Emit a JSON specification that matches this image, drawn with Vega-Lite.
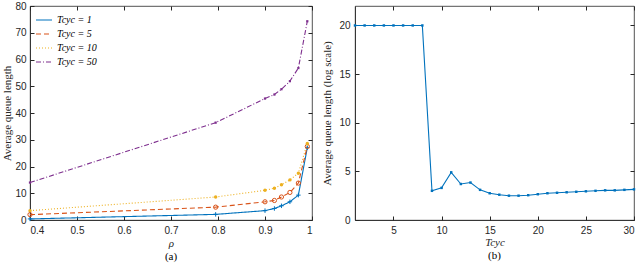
{
  "$schema": "https://vega.github.io/schema/vega-lite/v6.json",
  "background": "white",
  "padding": {"left": 1, "top": 0, "right": 0, "bottom": 0},
  "spacing": 8,
  "config": {
    "view": {"stroke": "#262626", "strokeWidth": 0.8},
    "axis": {"grid": false, "minExtent": 0, "labelFont": "Liberation Sans", "labelFontSize": 10, "labelColor": "#262626", "domainColor": "#262626", "domainWidth": 0.8, "tickColor": "#262626", "tickSize": -4, "labelPadding": 9, "titleFont": "Liberation Serif", "titleFontWeight": "normal", "titleFontSize": 11, "titleColor": "#262626"},
    "title": {"font": "Liberation Serif", "fontSize": 11, "fontWeight": "normal", "color": "#000000", "offset": 3},
    "legend": {"labelFont": "Liberation Serif", "labelFontStyle": "italic", "labelFontSize": 10, "labelColor": "#000000", "symbolSize": 256, "symbolStrokeWidth": 1.2, "rowPadding": -5, "padding": 2, "offset": 3}
  },
  "hconcat": [
    {
      "width": 282,
      "height": 214,
      "title": {"text": "(a)", "orient": "bottom"},
      "data": {"values": [
        {"rho": 0.4, "q": 0.4, "series": "Tcyc = 1"},
        {"rho": 0.795, "q": 2.1, "series": "Tcyc = 1"},
        {"rho": 0.9, "q": 3.5, "series": "Tcyc = 1"},
        {"rho": 0.92, "q": 4.3, "series": "Tcyc = 1"},
        {"rho": 0.935, "q": 5.3, "series": "Tcyc = 1"},
        {"rho": 0.953, "q": 6.8, "series": "Tcyc = 1"},
        {"rho": 0.971, "q": 9.3, "series": "Tcyc = 1"},
        {"rho": 0.99, "q": 27.0, "series": "Tcyc = 1"},
        {"rho": 0.4, "q": 2.0, "series": "Tcyc = 5"},
        {"rho": 0.795, "q": 4.8, "series": "Tcyc = 5"},
        {"rho": 0.9, "q": 6.8, "series": "Tcyc = 5"},
        {"rho": 0.92, "q": 7.3, "series": "Tcyc = 5"},
        {"rho": 0.935, "q": 8.6, "series": "Tcyc = 5"},
        {"rho": 0.953, "q": 10.3, "series": "Tcyc = 5"},
        {"rho": 0.971, "q": 13.8, "series": "Tcyc = 5"},
        {"rho": 0.99, "q": 27.5, "series": "Tcyc = 5"},
        {"rho": 0.4, "q": 3.5, "series": "Tcyc = 10"},
        {"rho": 0.795, "q": 8.6, "series": "Tcyc = 10"},
        {"rho": 0.9, "q": 11.1, "series": "Tcyc = 10"},
        {"rho": 0.92, "q": 11.9, "series": "Tcyc = 10"},
        {"rho": 0.935, "q": 13.2, "series": "Tcyc = 10"},
        {"rho": 0.953, "q": 15.0, "series": "Tcyc = 10"},
        {"rho": 0.971, "q": 17.5, "series": "Tcyc = 10"},
        {"rho": 0.99, "q": 28.6, "series": "Tcyc = 10"},
        {"rho": 0.4, "q": 14.0, "series": "Tcyc = 50"},
        {"rho": 0.795, "q": 36.4, "series": "Tcyc = 50"},
        {"rho": 0.9, "q": 45.4, "series": "Tcyc = 50"},
        {"rho": 0.92, "q": 46.9, "series": "Tcyc = 50"},
        {"rho": 0.935, "q": 48.9, "series": "Tcyc = 50"},
        {"rho": 0.953, "q": 51.9, "series": "Tcyc = 50"},
        {"rho": 0.971, "q": 56.8, "series": "Tcyc = 50"},
        {"rho": 0.99, "q": 74.3, "series": "Tcyc = 50"}
      ]},
      "layer": [
        {
          "mark": {"type": "line", "strokeWidth": 1.1},
          "encoding": {
            "x": {"field": "rho", "type": "quantitative", "scale": {"domain": [0.4, 1], "nice": false}, "axis": {"values": [0.4, 0.5, 0.6, 0.7, 0.8, 0.9, 1], "format": "~g", "title": "ρ", "titleFontStyle": "italic", "titlePadding": 2}},
            "y": {"field": "q", "type": "quantitative", "scale": {"domain": [0, 80], "nice": false}, "axis": {"values": [0, 10, 20, 30, 40, 50, 60, 70, 80], "labelPadding": 8, "title": "Average queue length", "titlePadding": 2}},
            "color": {"field": "series", "type": "nominal", "scale": {"domain": ["Tcyc = 1", "Tcyc = 5", "Tcyc = 10", "Tcyc = 50"], "range": ["#0072BD", "#D95319", "#EDB120", "#7E2F8E"]}, "legend": {"orient": "top-left", "title": null}},
            "strokeDash": {"field": "series", "type": "nominal", "scale": {"domain": ["Tcyc = 1", "Tcyc = 5", "Tcyc = 10", "Tcyc = 50"], "range": [[1, 0], [5, 3], [1, 2], [5, 2, 1, 2]]}, "legend": {"orient": "top-left", "title": null}}
          }
        },
        {
          "transform": [{"filter": "datum.series == 'Tcyc = 1'"}],
          "mark": {"type": "point", "shape": "M-1,0H1M0,-1V1", "filled": false, "size": 20, "color": "#0072BD", "strokeWidth": 1, "opacity": 1},
          "encoding": {"x": {"field": "rho", "type": "quantitative", "axis": null}, "y": {"field": "q", "type": "quantitative", "axis": null}}
        },
        {
          "transform": [{"filter": "datum.series == 'Tcyc = 5'"}],
          "mark": {"type": "point", "shape": "circle", "filled": false, "size": 18, "color": "#D95319", "strokeWidth": 1, "opacity": 1},
          "encoding": {"x": {"field": "rho", "type": "quantitative", "axis": null}, "y": {"field": "q", "type": "quantitative", "axis": null}}
        },
        {
          "transform": [{"filter": "datum.series == 'Tcyc = 10'"}],
          "mark": {"type": "point", "shape": "circle", "filled": true, "size": 12, "color": "#EDB120", "opacity": 1},
          "encoding": {"x": {"field": "rho", "type": "quantitative", "axis": null}, "y": {"field": "q", "type": "quantitative", "axis": null}}
        },
        {
          "transform": [{"filter": "datum.series == 'Tcyc = 50'"}],
          "mark": {"type": "point", "shape": "square", "filled": true, "size": 5, "color": "#7E2F8E", "opacity": 1},
          "encoding": {"x": {"field": "rho", "type": "quantitative", "axis": null}, "y": {"field": "q", "type": "quantitative", "axis": null}}
        },
        {
          "mark": {"type": "point", "opacity": 0},
          "encoding": {
            "x": {"field": "rho", "type": "quantitative", "axis": {"orient": "top", "values": [0.4, 0.5, 0.6, 0.7, 0.8, 0.9, 1], "labels": false, "domain": false, "title": null, "minExtent": 0, "maxExtent": 0}},
            "y": {"field": "q", "type": "quantitative", "axis": {"orient": "right", "values": [0, 10, 20, 30, 40, 50, 60, 70, 80], "labels": false, "domain": false, "title": null, "minExtent": 0, "maxExtent": 0}}
          }
        }
      ],
      "resolve": {"axis": {"x": "independent", "y": "independent"}}
    },
    {
      "width": 279,
      "height": 214,
      "title": {"text": "(b)", "orient": "bottom"},
      "data": {"values": [
        {"t": 1, "q": 20}, {"t": 2, "q": 20}, {"t": 3, "q": 20}, {"t": 4, "q": 20},
        {"t": 5, "q": 20}, {"t": 6, "q": 20}, {"t": 7, "q": 20}, {"t": 8, "q": 20},
        {"t": 9, "q": 3.0}, {"t": 10, "q": 3.3}, {"t": 11, "q": 4.9}, {"t": 12, "q": 3.7},
        {"t": 13, "q": 3.85}, {"t": 14, "q": 3.1}, {"t": 15, "q": 2.75}, {"t": 16, "q": 2.6},
        {"t": 17, "q": 2.5}, {"t": 18, "q": 2.5}, {"t": 19, "q": 2.55}, {"t": 20, "q": 2.65},
        {"t": 21, "q": 2.75}, {"t": 22, "q": 2.8}, {"t": 23, "q": 2.85}, {"t": 24, "q": 2.9},
        {"t": 25, "q": 2.95}, {"t": 26, "q": 3.0}, {"t": 27, "q": 3.05}, {"t": 28, "q": 3.05},
        {"t": 29, "q": 3.1}, {"t": 30, "q": 3.15}
      ]},
      "layer": [
        {
          "mark": {"type": "line", "color": "#0072BD", "strokeWidth": 1.1, "point": {"filled": true, "shape": "square", "size": 6, "color": "#0072BD"}},
          "encoding": {
            "x": {"field": "t", "type": "quantitative", "scale": {"domain": [1, 30], "nice": false}, "axis": {"values": [5, 10, 15, 20, 25, 30], "title": "Tcyc", "titleFontStyle": "italic", "titlePadding": 1}},
            "y": {"field": "q", "type": "quantitative", "scale": {"domain": [0, 22], "nice": false}, "axis": {"values": [0, 5, 10, 15, 20], "title": "Average queue length (log scale)", "titlePadding": 6}}
          }
        },
        {
          "mark": {"type": "point", "opacity": 0},
          "encoding": {
            "x": {"field": "t", "type": "quantitative", "axis": {"orient": "top", "values": [5, 10, 15, 20, 25, 30], "labels": false, "domain": false, "title": null, "minExtent": 0, "maxExtent": 0}},
            "y": {"field": "q", "type": "quantitative", "axis": {"orient": "right", "values": [0, 5, 10, 15, 20], "labels": false, "domain": false, "title": null, "minExtent": 0, "maxExtent": 0}}
          }
        }
      ],
      "resolve": {"axis": {"x": "independent", "y": "independent"}}
    }
  ]
}
